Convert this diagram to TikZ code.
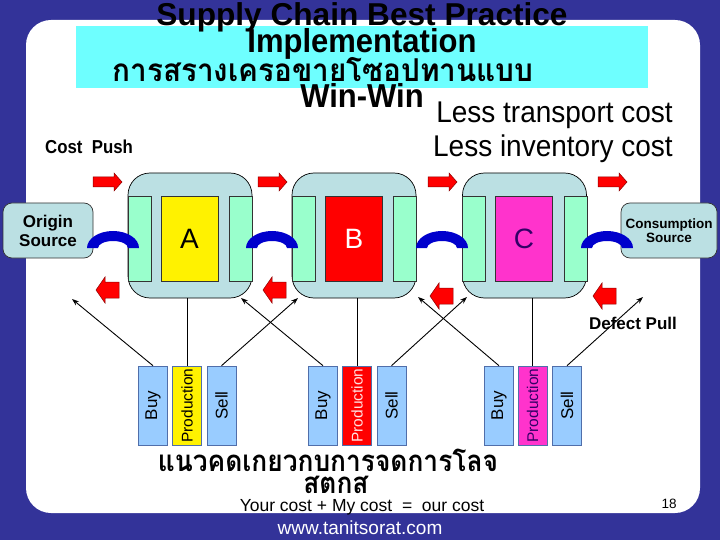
\documentclass[tikz,border=0pt]{standalone}
\usepackage{fontspec}
\setmainfont{Liberation Sans}
\newfontfamily\thaifont[Script=Thai]{Loma}
\usetikzlibrary{arrows.meta}
\definecolor{slideblue}{RGB}{51,51,153}
\definecolor{titlecyan}{RGB}{110,255,255}
\definecolor{boxgray}{RGB}{187,224,227}
\definecolor{stripgreen}{RGB}{153,255,204}
\definecolor{bsblue}{RGB}{153,204,255}
\definecolor{bsedge}{RGB}{80,110,170}
\definecolor{arcblue}{RGB}{0,0,204}
\definecolor{magentaC}{RGB}{255,51,204}
\definecolor{darkpurple}{RGB}{51,0,102}
\definecolor{arrowred}{RGB}{255,0,0}
\definecolor{arrowedge}{RGB}{140,0,0}
\definecolor{palepink}{RGB}{255,225,225}
\newcommand{\fsz}[1]{\fontsize{#1}{#1}\selectfont}
\newcommand{\tallbox}[1]{\scalebox{1}[1.07]{#1}}
\begin{document}
\begin{tikzpicture}[x=1pt,y=-1pt,
  company/.style={draw=black, fill=boxgray, rounded corners=22pt, minimum width=124pt, minimum height=125pt, inner sep=0pt, line width=0.7pt},
  strip/.style={draw=black!80, fill=stripgreen, minimum width=23pt, minimum height=85pt, inner sep=0pt, line width=0.6pt},
  core/.style={draw=black!80, minimum width=57pt, minimum height=85pt, inner sep=0pt, line width=0.6pt, font=\fsz{28}},
  source/.style={draw=black!80, fill=boxgray, rounded corners=9pt, inner sep=0pt, minimum height=55pt, align=center, line width=0.7pt},
  activity/.style={draw=bsedge, rotate=90, minimum width=79pt, minimum height=29pt, inner sep=0pt, line width=0.6pt},
  txt/.style={inner sep=0pt, anchor=base},
  blockarrow/.style={fill=arrowred, draw=arrowedge, line width=0.5pt},
  link/.style={-{Stealth[length=7pt,width=5pt]}, line width=0.9pt},
  pics/rarrow/.style={code={\draw[blockarrow] (0,-5) -- (21,-5) -- (21,-9) -- (29,0) -- (21,9) -- (21,5) -- (0,5) -- cycle;}},
  pics/larrow/.style={code={\draw[blockarrow] (0,0) -- (9,-13) -- (9,-8) -- (23,-8) -- (23,8) -- (9,8) -- (9,13) -- cycle;}},
  pics/halfring/.style={code={\fill[arcblue] (-26,0) arc[start angle=180, end angle=0, x radius=26pt, y radius=17pt] -- (15,0) arc[start angle=0, end angle=180, x radius=15pt, y radius=7pt] -- cycle;}}
]
\fill[slideblue] (0,0) rectangle (720,540);
\useasboundingbox (0,0) rectangle (720,540);
\fill[white, rounded corners=25pt] (26,20) rectangle (700,513);

% title
\node[fill=titlecyan, minimum width=572pt, minimum height=62pt, inner sep=0pt] (titlebox) at (362,57) {};
\node[txt, font=\fsz{31}\bfseries] (t1) at (362,26) {\scalebox{1.02}[1.02]{Supply Chain Best Practice}};
\node[txt, font=\fsz{31}\bfseries] (t2) at (362,53) {\tallbox{Implementation}};
\node[txt, font=\fsz{30}\thaifont\bfseries] (t3) at (323,82) {\scalebox{0.99}[1.05]{การสรางเครอขายโซอปทานแบบ}};
\node[txt, font=\fsz{31}\bfseries] (t4) at (362,108) {\tallbox{Win-Win}};
\node[txt, anchor=base east, font=\fsz{28}] (less1) at (673,123) {\tallbox{Less transport cost}};
\node[txt, anchor=base east, font=\fsz{28}] (less2) at (673,157) {\tallbox{Less inventory cost}};
\node[txt, anchor=base west, font=\fsz{17.5}\bfseries] (push) at (45,154) {\scalebox{0.96}[1.07]{Cost\ \ Push}};

% top arrows
\pic at (93,182) {rarrow};
\pic at (258,182) {rarrow};
\pic at (428,182) {rarrow};
\pic at (598,182) {rarrow};

% companies
\node[company] (boxA) at (190,235.5) {};
\node[company] (boxB) at (354,235.5) {};
\node[company] (boxC) at (524.5,235.5) {};
\node[strip] (sA1) at (139.5,238.5) {};
\node[strip] (sA2) at (240.5,238.5) {};
\node[strip] (sB1) at (303.5,238.5) {};
\node[strip] (sB2) at (404.5,238.5) {};
\node[strip] (sC1) at (473.5,238.5) {};
\node[strip] (sC2) at (575.5,238.5) {};
\node[core, fill=yellow, text=black] (coreA) at (189.5,238.5) {A};
\node[core, fill=arrowred, text=white] (coreB) at (354,238.5) {B};
\node[core, fill=magentaC, text=darkpurple] (coreC) at (524,238.5) {C};

% sources
\node[source, minimum width=90pt, font=\fsz{17}\bfseries] (origin) at (48,230.5) {Origin\\[2pt]Source};
\node[source, minimum width=96pt, font=\fsz{13.5}\bfseries] (consume) at (669,230.5) {Consumption\\[1pt]Source};

% half rings
\pic at (113,248) {halfring};
\pic at (272,248) {halfring};
\pic at (442,248) {halfring};
\pic at (607,248) {halfring};

% bottom arrows
\pic at (96,290) {larrow};
\pic at (263,290) {larrow};
\pic at (430,296) {larrow};
\pic at (593,296) {larrow};

\node[txt, font=\fsz{17}\bfseries] (defect) at (633,329) {Defect Pull};

% activities
\node[activity, fill=bsblue, font=\fsz{17}] (buyA) at (153,405.5) {Buy};
\node[activity, fill=yellow, font=\fsz{15.5}] (prodA) at (187,405.5) {Production};
\node[activity, fill=bsblue, font=\fsz{17}] (sellA) at (221.5,405.5) {Sell};
\node[activity, fill=bsblue, font=\fsz{17}] (buyB) at (323,405.5) {Buy};
\node[activity, fill=arrowred, text=palepink, font=\fsz{15.5}] (prodB) at (357,405.5) {Production};
\node[activity, fill=bsblue, font=\fsz{17}] (sellB) at (391.5,405.5) {Sell};
\node[activity, fill=bsblue, font=\fsz{17}] (buyC) at (499,405.5) {Buy};
\node[activity, fill=magentaC, text=darkpurple, font=\fsz{15.5}] (prodC) at (532.5,405.5) {Production};
\node[activity, fill=bsblue, font=\fsz{17}] (sellC) at (567,405.5) {Sell};

% links
\draw[line width=0.7pt] (prodA.east) -- (prodA.east |- boxA.south);
\draw[line width=0.7pt] (prodB.east) -- (prodB.east |- boxB.south);
\draw[line width=0.7pt] (prodC.east) -- (prodC.east |- boxC.south);
\coordinate (tA) at (72,299);
\coordinate (tB) at (298,298);
\coordinate (tC) at (241,298);
\coordinate (tD) at (467,297);
\coordinate (tE) at (418,297);
\coordinate (tF) at (643,297);
\draw[link] (buyA.east) -- (tA);
\draw[link] (sellA.east) -- (tB);
\draw[link] (buyB.east) -- (tC);
\draw[link] (sellB.east) -- (tD);
\draw[link] (buyC.east) -- (tE);
\draw[link] (sellC.east) -- (tF);

% bottom texts
\node[txt, font=\fsz{28}\thaifont\bfseries] (th1) at (328,471) {\scalebox{0.94}[1.05]{แนวคดเกยวกบการจดการโลจ}};
\node[txt, font=\fsz{28}\thaifont\bfseries] (th2) at (336,493) {\scalebox{0.94}[1.05]{สตกส}};
\node[txt, font=\fsz{17.5}] (your) at (362,511) {Your cost + My cost \ = \ our cost};
\node[txt, font=\fsz{13.5}] (page) at (669,508) {18};
\node[txt, font=\fsz{19}, text=white] (www) at (360,534) {www.tanitsorat.com};
\end{tikzpicture}
\end{document}
